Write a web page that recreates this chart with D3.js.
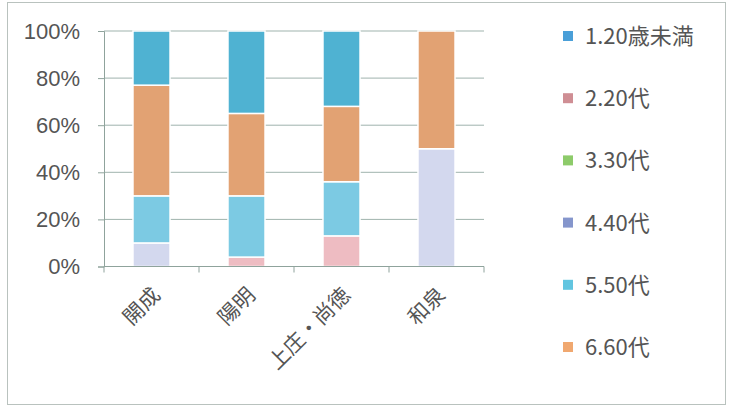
<!DOCTYPE html>
<html><head><meta charset="utf-8">
<script src="https://cdn.jsdelivr.net/npm/d3@7"></script>
<style>
html,body{margin:0;padding:0;background:#fff;}
svg{display:block;}
text{font-family:"Noto Sans CJK JP","Liberation Sans",sans-serif;fill:#555;}
</style></head>
<body>
<svg id="chart" width="734" height="407"></svg>
<script>
const categories = ["開成", "陽明", "上庄・尚徳", "和泉"];
const seriesNames = ["1.20歳未満", "2.20代", "3.30代", "4.40代", "5.50代", "6.60代"];
const under20 = [23, 35, 32, 0];
const age20s = [0, 4, 13, 0];
const age30s = [0, 0, 0, 0];
const age40s = [10, 0, 0, 50];
const age50s = [20, 26, 23, 0];
const age60s = [47, 35, 32, 50];
const stackOrder = ["4.40代", "2.20代", "5.50代", "6.60代", "1.20歳未満", "3.30代"];
const yTicks = [0, 20, 40, 60, 80, 100];
const colors = {
  "1.20歳未満": "#4fb2d2",
  "2.20代": "#eebcc2",
  "3.30代": "#8dcb6a",
  "4.40代": "#d3d8ee",
  "5.50代": "#7ccae3",
  "6.60代": "#e2a273"
};
const legendColors = {
  "1.20歳未満": "#4a9fd8",
  "2.20代": "#cf8e94",
  "3.30代": "#8dcb6a",
  "4.40代": "#8596cc",
  "5.50代": "#62c5e0",
  "6.60代": "#f0a870"
};

const seriesValues = [under20, age20s, age30s, age40s, age50s, age60s];
const rows = categories.map((c, i) => {
  const r = {cat: c};
  seriesNames.forEach((s, j) => r[s] = seriesValues[j][i]);
  return r;
});

const svg = d3.select("#chart");
svg.append("rect").attr("x", 7.5).attr("y", 2.5).attr("width", 718).attr("height", 402)
  .attr("fill", "none").attr("stroke", "#b9c2be").attr("stroke-width", 1);

const pLeft = 104, pRight = 484, pTop = 31, pBottom = 266.5;
const x = d3.scaleBand().domain(categories).range([pLeft, pRight]).paddingInner(0.61).paddingOuter(0.305);
const y = d3.scaleLinear().domain([0, 100]).range([pBottom, pTop]);

svg.append("g").selectAll("line").data(yTicks.filter(t => t > 0)).join("line")
  .attr("x1", pLeft).attr("x2", pRight)
  .attr("y1", d => y(d)).attr("y2", d => y(d))
  .attr("stroke", "#9fb3ad").attr("stroke-width", 1);

const yAxis = svg.append("g").attr("transform", `translate(${pLeft},0)`)
  .call(d3.axisLeft(y).tickValues(yTicks).tickFormat(d => d + "%").tickSize(6).tickPadding(18));
yAxis.select(".domain").attr("stroke", "#8fa39c");
yAxis.selectAll(".tick line").attr("stroke", "#8fa39c");
yAxis.selectAll(".tick text").attr("font-size", 22).attr("fill", "#5a5a5a")
  .style("font-family", "'Liberation Sans',sans-serif");

const stack = d3.stack().keys(stackOrder);
const layers = stack(rows);
svg.append("g").selectAll("g").data(layers).join("g")
  .attr("fill", d => colors[d.key])
  .selectAll("rect").data(d => d.filter(p => p[1] - p[0] > 0)).join("rect")
  .attr("x", d => x(d.data.cat))
  .attr("width", x.bandwidth())
  .attr("y", d => y(d[1]))
  .attr("height", d => y(d[0]) - y(d[1]))
  .attr("stroke", "#fff").attr("stroke-width", 1.5);

const step = x.step();
const boundaries = d3.range(categories.length + 1).map(i => pLeft + i * step);
svg.append("line").attr("x1", pLeft).attr("x2", pRight).attr("y1", pBottom).attr("y2", pBottom)
  .attr("stroke", "#8fa39c");
svg.append("g").selectAll("line").data(boundaries).join("line")
  .attr("x1", d => d).attr("x2", d => d).attr("y1", pBottom).attr("y2", pBottom + 6)
  .attr("stroke", "#8fa39c");

svg.append("g").selectAll("text").data(categories).join("text")
  .attr("transform", d => `translate(${x(d) + x.bandwidth() / 2 + 10},${pBottom + 30}) rotate(-45)`)
  .attr("text-anchor", "end")
  .attr("font-size", 21)
  .attr("fill", "#555")
  .text(d => d);

const legend = svg.append("g").selectAll("g").data(seriesNames).join("g")
  .attr("transform", (d, i) => `translate(563,${36 + i * 62.2})`);
legend.append("rect").attr("x", 0).attr("y", -5).attr("width", 10).attr("height", 10)
  .attr("fill", d => legendColors[d]);
legend.append("text").attr("x", 22).attr("y", 0).attr("dy", "0.36em")
  .attr("font-size", 22).attr("fill", "#555").text(d => d);
</script>
</body></html>
